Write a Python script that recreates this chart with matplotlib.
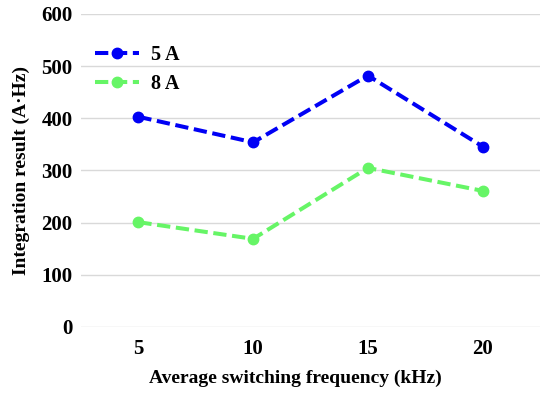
import matplotlib
matplotlib.use("Agg")
import matplotlib.pyplot as plt

freqs = ["5", "10", "15", "20"]
current_5a = [403, 354, 482, 346]
current_8a = [201, 169, 305, 261]

plt.rcParams["font.family"] = ["Liberation Serif", "DejaVu Serif"]
plt.rcParams["font.weight"] = "bold"

fig = plt.figure(figsize=(5.5, 3.94), dpi=100)
ax = fig.add_axes([81 / 550, 1 - 327 / 394, 459 / 550, 313 / 394])

x = list(range(len(freqs)))
ax.plot(x, current_5a, color="#0000f5", linestyle="--", linewidth=2.9,
        marker="o", markersize=7.5, dashes=(3.3, 1.4), label="5 A")
ax.plot(x, current_8a, color="#66f566", linestyle="--", linewidth=2.9,
        marker="o", markersize=7.5, dashes=(3.3, 1.4), label="8 A")

ax.set_xlim(-0.5, 3.5)
ax.set_ylim(0, 600)
ax.set_yticks(range(0, 601, 100))
ax.set_xticks(x)
ax.set_xticklabels(freqs)
ax.yaxis.grid(True, color="#d9d9d9", linewidth=1)
ax.set_axisbelow(True)
for s in ax.spines.values():
    s.set_visible(False)
ax.tick_params(axis="y", length=0, labelsize=15, pad=6)
ax.tick_params(axis="x", length=0, labelsize=15, pad=9)
for lbl in ax.get_xticklabels() + ax.get_yticklabels():
    lbl.set_fontweight("bold")

ax.set_xlabel("Average switching frequency (kHz)", fontsize=14, fontweight="bold", labelpad=8)
ax.xaxis.set_label_coords((295 - 81) / 459, -0.135)
ax.set_ylabel("Integration result (A·Hz)", fontsize=14, fontweight="bold", labelpad=8)

leg = ax.legend(loc="upper left", bbox_to_anchor=(-0.01, 0.96), frameon=False,
                handlelength=2.2, labelspacing=0.45, handletextpad=0.6,
                prop={"weight": "bold", "size": 14.5})

fig.savefig("out.png", dpi=100)
